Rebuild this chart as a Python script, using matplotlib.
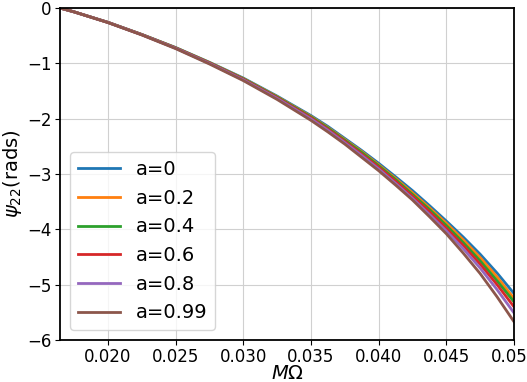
import matplotlib
matplotlib.use("Agg")
import matplotlib.pyplot as plt

m_omega = [0.01646, 0.0175, 0.020, 0.0225, 0.025, 0.0275, 0.030, 0.0325,
           0.035, 0.03625, 0.0375, 0.03875, 0.040, 0.04125, 0.0425,
           0.04375, 0.045, 0.04625, 0.0475, 0.04875, 0.050]

psi_a0 = [0, -0.07, -0.258, -0.477, -0.714, -0.981, -1.266, -1.592,
          -1.944, -2.14, -2.357, -2.575, -2.806, -3.05, -3.30,
          -3.57, -3.85, -4.14, -4.45, -4.79, -5.16]
psi_a02 = [0, -0.07, -0.259, -0.479, -0.718, -0.986, -1.275, -1.603,
           -1.960, -2.16, -2.377, -2.595, -2.833, -3.08, -3.34,
           -3.61, -3.89, -4.19, -4.51, -4.86, -5.25]
psi_a04 = [0, -0.07, -0.26, -0.48, -0.72, -0.99, -1.28, -1.61,
           -1.97, -2.17, -2.39, -2.61, -2.85, -3.10, -3.37,
           -3.64, -3.93, -4.24, -4.57, -4.93, -5.31]
psi_a06 = [0, -0.07, -0.261, -0.482, -0.724, -0.995, -1.288, -1.621,
           -1.985, -2.19, -2.41, -2.64, -2.876, -3.13, -3.40,
           -3.68, -3.98, -4.29, -4.63, -5.00, -5.40]
psi_a08 = [0, -0.07, -0.262, -0.484, -0.728, -1.002, -1.298, -1.634,
           -2.004, -2.21, -2.434, -2.665, -2.908, -3.17, -3.44,
           -3.73, -4.03, -4.35, -4.70, -5.09, -5.51]
psi_a099 = [0, -0.07, -0.264, -0.487, -0.734, -1.012, -1.312, -1.653,
            -2.031, -2.24, -2.46, -2.70, -2.94, -3.20, -3.47,
            -3.77, -4.08, -4.43, -4.80, -5.22, -5.67]

labels = ["a=0", "a=0.2", "a=0.4", "a=0.6", "a=0.8", "a=0.99"]
series = [psi_a0, psi_a02, psi_a04, psi_a06, psi_a08, psi_a099]
colors = ["#1f77b4", "#ff7f0e", "#2ca02c", "#d62728", "#9467bd", "#8c564b"]

xticks = [0.020, 0.025, 0.030, 0.035, 0.040, 0.045, 0.050]
yticks = [0, -1, -2, -3, -4, -5, -6]

fig = plt.figure(figsize=(5.27, 3.82), dpi=100)
ax = fig.add_axes([60 / 527, 1 - 340 / 382, 454 / 527, 332 / 382])

for y, lab, c in zip(series, labels, colors):
    ax.plot(m_omega, y, color=c, lw=2, label=lab)

ax.set_xlim(m_omega[0], 0.050)
ax.set_ylim(-6, 0)
ax.set_xticks(xticks)
ax.set_xticklabels([f"{v:.3f}" for v in xticks])
ax.set_yticks(yticks)
ax.set_yticklabels([f"{v}" if v == 0 else f"\u2212{abs(v)}" for v in yticks])
ax.tick_params(labelsize=12, pad=2.5)
ax.grid(True, color="#d0d0d0", lw=0.8)
for s in ax.spines.values():
    s.set_linewidth(1.3)

ax.set_xlabel(r"$M\Omega$", fontsize=14, labelpad=-2)
ax.set_ylabel(r"$\psi_{22}$(rads)", fontsize=14, labelpad=2)

ax.legend(loc="lower left", fontsize=14, handlelength=2.2, framealpha=0.8)

fig.savefig("out.png", dpi=100)
